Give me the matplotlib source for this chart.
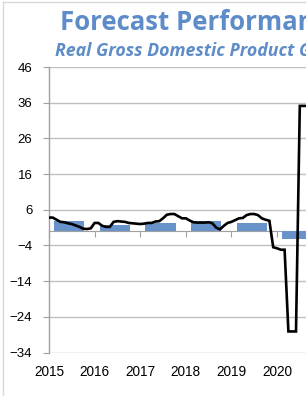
import numpy as np
import matplotlib
matplotlib.use('Agg')
import matplotlib.pyplot as plt

plt.rcParams['font.family'] = ['Liberation Sans', 'DejaVu Sans']

# actual growth (annual bars)
bar_years = [2015, 2016, 2017, 2018, 2019, 2020]
bar_values = [2.8, 1.7, 2.3, 2.9, 2.3, -2.3]

# monthly forecast line, starting Jan 2015
forecast = [3.8, 3.8, 3.2, 2.6, 2.5, 2.2, 2.0, 1.6, 1.2, 0.7, 0.6, 0.8,
            2.3, 2.3, 1.5, 1.2, 1.2, 2.6, 2.8, 2.7, 2.6, 2.3, 2.2, 2.1,
            2.0, 2.1, 2.3, 2.3, 2.7, 2.8, 3.6, 4.6, 4.8, 4.8, 4.2, 3.6,
            3.6, 3.0, 2.5, 2.4, 2.4, 2.4, 2.5, 2.2, 1.0, 0.5, 1.5, 2.3,
            2.6, 3.1, 3.6, 3.7, 4.5, 4.8, 4.8, 4.5, 3.6, 3.2, 2.9, -4.5,
            -4.8, -5.2, -5.2, -28.1, -28.1, -28.1, 35.1, 35.1, 35.1]

x_labels = ['2015', '2016', '2017', '2018', '2019', '2020']
y_ticks = [-34, -24, -14, -4, 6, 16, 26, 36, 46]

title = 'Forecast Performance'
subtitle = 'Real Gross Domestic Product Growth'

blue_txt = '#5E8CC8'
bar_col = '#6892CA'
grid_col = '#C0C0C0'

fig = plt.figure(figsize=(3.06, 3.96), dpi=100)
W, H = 306, 396

# axes run off the right edge, like the cropped original
ax = fig.add_axes([49 / W, 1 - 352.5 / H, (306 - 49) / W, (352.5 - 67) / H])

months = 2015 + np.arange(len(forecast)) / 12.0
ax.bar(np.array(bar_years) + 0.445, bar_values, width=0.66, color=bar_col, zorder=2)
ax.plot(months, forecast, color='black', lw=1.9, zorder=3, solid_joinstyle='miter')

ax.set_xlim(2015, 2015 + 257 / 45.6)
ax.set_ylim(-34, 46)
ax.set_yticks(y_ticks)
ax.set_xticks(bar_years)
ax.set_xticklabels(x_labels)
ax.yaxis.grid(True, color=grid_col, lw=1.0, zorder=0)
ax.set_axisbelow(True)

for s in ['top', 'right', 'bottom']:
    ax.spines[s].set_visible(False)
ax.spines['left'].set_color('#A0A0A0')
ax.spines['left'].set_linewidth(1.0)

ax.tick_params(axis='y', direction='out', length=4, color='#A0A0A0',
               labelsize=9.5, pad=8)
ax.tick_params(axis='x', length=0, labelsize=9.8, pad=9)

# category axis crossing at zero, with year tick marks
zero_ax = ax.secondary_xaxis((0 - (-34)) / 80.0)
zero_ax.set_xticks(bar_years)
zero_ax.tick_params(direction='out', length=4, color='#A0A0A0', labelbottom=False, labeltop=False)
zero_ax.spines['bottom'].set_visible(True)
zero_ax.spines['bottom'].set_color('#A0A0A0')
zero_ax.spines['top'].set_visible(False)

# title block is cut by the right edge, as in the original crop
fig.text(60 / W, 1 - 30 / H, title, fontsize=18.5, fontweight='bold',
         color=blue_txt, family='Open Sans', ha='left', va='baseline')
fig.text(55 / W, 1 - 55.5 / H, subtitle, fontsize=12.8, fontweight='bold',
         style='italic', color=blue_txt, family='Open Sans', ha='left', va='baseline')

# faint chart border
fig.add_artist(plt.Line2D([2.5 / W, 2.5 / W], [0, 1 - 2 / H], color='#D8D8D8', lw=1, transform=fig.transFigure))
fig.add_artist(plt.Line2D([2.5 / W, 1], [1 - 2 / H, 1 - 2 / H], color='#D8D8D8', lw=1, transform=fig.transFigure))

fig.savefig('out.png', dpi=100)
